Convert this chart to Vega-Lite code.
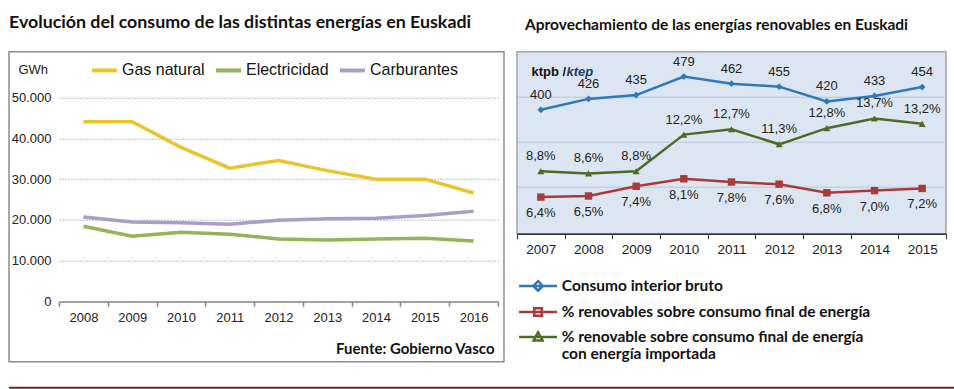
{
  "$schema": "https://vega.github.io/schema/vega-lite/v6.json",
  "padding": {"left": 8, "top": 12.7, "right": 0, "bottom": 0},
  "background": "white",
  "bounds": "flush",
  "spacing": 335,
  "config": {
    "locale": {"number": {"decimal": ",", "thousands": ".", "grouping": [3], "currency": ["", " €"]}},
    "font": "Liberation Sans",
    "legend": {"padding": 0}
  },
  "vconcat": [
    {
      "bounds": "flush",
      "spacing": 13,
      "resolve": {"scale": {"color": "independent", "shape": "independent"}, "legend": {"color": "independent", "shape": "independent"}},
      "hconcat": [
        {
          "width": 495,
          "height": 310,
          "title": {"text": "Evolución del consumo de las distintas energías en Euskadi", "anchor": "start", "frame": "group", "font": "Lato", "fontSize": 17.8, "fontWeight": "bold", "color": "#111111", "offset": 6, "baseline": "alphabetic"},
          "view": {"stroke": "#8c8c8c", "strokeWidth": 1.5, "fill": "white"},
          "data": {"values": [
            {"año": 2008, "serie": "Gas natural", "gwh": 44100},
            {"año": 2009, "serie": "Gas natural", "gwh": 44100},
            {"año": 2010, "serie": "Gas natural", "gwh": 37800},
            {"año": 2011, "serie": "Gas natural", "gwh": 32700},
            {"año": 2012, "serie": "Gas natural", "gwh": 34600},
            {"año": 2013, "serie": "Gas natural", "gwh": 32100},
            {"año": 2014, "serie": "Gas natural", "gwh": 30000},
            {"año": 2015, "serie": "Gas natural", "gwh": 30000},
            {"año": 2016, "serie": "Gas natural", "gwh": 26600},
            {"año": 2008, "serie": "Electricidad", "gwh": 18450},
            {"año": 2009, "serie": "Electricidad", "gwh": 16000},
            {"año": 2010, "serie": "Electricidad", "gwh": 17000},
            {"año": 2011, "serie": "Electricidad", "gwh": 16500},
            {"año": 2012, "serie": "Electricidad", "gwh": 15300},
            {"año": 2013, "serie": "Electricidad", "gwh": 15050},
            {"año": 2014, "serie": "Electricidad", "gwh": 15300},
            {"año": 2015, "serie": "Electricidad", "gwh": 15500},
            {"año": 2016, "serie": "Electricidad", "gwh": 14800},
            {"año": 2008, "serie": "Carburantes", "gwh": 20700},
            {"año": 2009, "serie": "Carburantes", "gwh": 19500},
            {"año": 2010, "serie": "Carburantes", "gwh": 19300},
            {"año": 2011, "serie": "Carburantes", "gwh": 18950},
            {"año": 2012, "serie": "Carburantes", "gwh": 19900},
            {"año": 2013, "serie": "Carburantes", "gwh": 20300},
            {"año": 2014, "serie": "Carburantes", "gwh": 20400},
            {"año": 2015, "serie": "Carburantes", "gwh": 21100},
            {"año": 2016, "serie": "Carburantes", "gwh": 22100}
          ]},
          "mark": {"type": "line", "strokeWidth": 3.5},
          "encoding": {
            "x": {
              "field": "año", "type": "ordinal", "bandPosition": 0.5,
              "scale": {"type": "band", "range": [50, 489], "paddingInner": 0, "paddingOuter": 0},
              "axis": {
                "orient": "bottom", "offset": -60.3, "tickBand": "extent", "labelAngle": 0,
                "labelFont": "Liberation Sans", "labelFontSize": 13, "labelColor": "#222222", "labelPadding": 5,
                "domainColor": "#888888", "domainWidth": 1.5, "tickColor": "#888888", "tickWidth": 1.5, "tickSize": 5, "grid": false,
                "title": "Fuente: Gobierno Vasco", "titleFont": "Lato", "titleFontWeight": "bold", "titleFontSize": 15, "titleColor": "#111111",
                "titleX": 485, "titleY": 47, "titleAlign": "right", "titleBaseline": "middle"
              }
            },
            "y": {
              "field": "gwh", "type": "quantitative",
              "scale": {"domain": [0, 50000], "range": [249.7, 46]},
              "axis": {
                "orient": "left", "offset": -46, "values": [0, 10000, 20000, 30000, 40000, 50000], "format": ",d",
                "ticks": false, "domain": false, "labelPadding": 4, "labelFont": "Liberation Sans", "labelFontSize": 13, "labelColor": "#222222",
                "grid": true, "gridColor": "#7a7a7a", "gridDash": [1, 2], "gridWidth": 1,
                "title": "GWh", "titleAngle": 0, "titleX": -37, "titleY": 18, "titleAlign": "left", "titleBaseline": "middle",
                "titleFont": "Liberation Sans", "titleFontSize": 13, "titleFontWeight": "normal", "titleColor": "#222222"
              }
            },
            "color": {
              "field": "serie", "type": "nominal",
              "scale": {"domain": ["Gas natural", "Electricidad", "Carburantes"], "range": ["#e9c42c", "#93b45a", "#aa9dc6"]},
              "legend": {
                "orient": "none", "legendX": 81, "legendY": 4, "direction": "horizontal", "title": null,
                "symbolType": "stroke", "symbolSize": 625, "symbolStrokeWidth": 4,
                "labelFont": "Liberation Sans", "labelFontSize": 16, "labelColor": "#111111", "labelOffset": 3, "columnPadding": 3
              }
            }
          }
        },
        {
          "width": 429,
          "height": 182,
          "title": {"text": "Aprovechamiento de las energías renovables en Euskadi", "anchor": "start", "frame": "group", "dx": 8, "font": "Lato", "fontSize": 15.5, "fontWeight": "bold", "color": "#111111", "offset": 6.5, "baseline": "alphabetic"},
          "view": {"stroke": "#a3a3a3", "strokeWidth": 1.5, "fill": "#dce6f2"},
          "data": {"values": [
            {"año": 2007, "serie": "Consumo interior bruto", "valor": 400},
            {"año": 2008, "serie": "Consumo interior bruto", "valor": 426},
            {"año": 2009, "serie": "Consumo interior bruto", "valor": 435},
            {"año": 2010, "serie": "Consumo interior bruto", "valor": 479},
            {"año": 2011, "serie": "Consumo interior bruto", "valor": 462},
            {"año": 2012, "serie": "Consumo interior bruto", "valor": 455},
            {"año": 2013, "serie": "Consumo interior bruto", "valor": 420},
            {"año": 2014, "serie": "Consumo interior bruto", "valor": 433},
            {"año": 2015, "serie": "Consumo interior bruto", "valor": 454},
            {"año": 2007, "serie": "% renovables sobre consumo final de energía", "valor": 0.064},
            {"año": 2008, "serie": "% renovables sobre consumo final de energía", "valor": 0.065},
            {"año": 2009, "serie": "% renovables sobre consumo final de energía", "valor": 0.074},
            {"año": 2010, "serie": "% renovables sobre consumo final de energía", "valor": 0.081},
            {"año": 2011, "serie": "% renovables sobre consumo final de energía", "valor": 0.078},
            {"año": 2012, "serie": "% renovables sobre consumo final de energía", "valor": 0.076},
            {"año": 2013, "serie": "% renovables sobre consumo final de energía", "valor": 0.068},
            {"año": 2014, "serie": "% renovables sobre consumo final de energía", "valor": 0.070},
            {"año": 2015, "serie": "% renovables sobre consumo final de energía", "valor": 0.072},
            {"año": 2007, "serie": "% renovable sobre consumo final de energía con energía importada", "valor": 0.088},
            {"año": 2008, "serie": "% renovable sobre consumo final de energía con energía importada", "valor": 0.086},
            {"año": 2009, "serie": "% renovable sobre consumo final de energía con energía importada", "valor": 0.088},
            {"año": 2010, "serie": "% renovable sobre consumo final de energía con energía importada", "valor": 0.122},
            {"año": 2011, "serie": "% renovable sobre consumo final de energía con energía importada", "valor": 0.127},
            {"año": 2012, "serie": "% renovable sobre consumo final de energía con energía importada", "valor": 0.113},
            {"año": 2013, "serie": "% renovable sobre consumo final de energía con energía importada", "valor": 0.128},
            {"año": 2014, "serie": "% renovable sobre consumo final de energía con energía importada", "valor": 0.137},
            {"año": 2015, "serie": "% renovable sobre consumo final de energía con energía importada", "valor": 0.132}
          ]},
          "encoding": {
            "x": {
              "field": "año", "type": "ordinal", "bandPosition": 0.5,
              "scale": {"type": "band", "paddingInner": 0, "paddingOuter": 0},
              "axis": {
                "title": null, "labelAngle": 0, "tickBand": "extent", "labelFont": "Liberation Sans", "labelFontSize": 13.5, "labelColor": "#1a1a1a",
                "labelPadding": 4, "domainColor": "#333333", "domainWidth": 1.5, "tickColor": "#333333", "tickSize": 5, "grid": false
              }
            },
            "color": {
              "field": "serie", "type": "nominal",
              "scale": {
                "domain": ["Consumo interior bruto", "% renovables sobre consumo final de energía", "% renovable sobre consumo final de energía con energía importada"],
                "range": ["#2f78b8", "#a83a3a", "#4d6b27"]
              },
              "legend": {
                "orient": "none", "legendX": 13.3, "legendY": 226.5, "direction": "vertical", "title": null,
                "symbolSize": 90, "symbolStrokeWidth": 2.5, "symbolOpacity": 1, "labelOffset": 16, "rowPadding": 6,
                "labelFont": "Lato", "labelFontWeight": "bold", "labelFontSize": 15.5, "labelColor": "#111111", "labelLimit": 600,
                "labelExpr": "indexof(datum.label, 'importada') > 0 ? ['% renovable sobre consumo final de energía', 'con energía importada'] : datum.label"
              }
            }
          },
          "layer": [
            {
              "transform": [{"filter": "datum.serie === 'Consumo interior bruto'"}],
              "encoding": {
                "y": {
                  "field": "valor", "type": "quantitative", "scale": {"domain": [106, 538]},
                  "axis": {
                    "orient": "left", "labels": false, "ticks": false, "domain": false, "grid": false,
                    "title": "ktpb /", "titleAngle": 0, "titleX": 14, "titleY": 20, "titleAlign": "left", "titleBaseline": "middle",
                    "titleFont": "Liberation Sans", "titleFontSize": 13, "titleFontWeight": "bold", "titleColor": "#111111"
                  }
                }
              },
              "layer": [
                {"mark": {"type": "line", "strokeWidth": 2.5}},
                {"mark": {"type": "point", "shape": "diamond", "filled": true, "size": 45, "opacity": 1}},
                {"mark": {"type": "text", "dy": -15, "fontSize": 13, "font": "Liberation Sans"},
                 "encoding": {"text": {"field": "valor", "type": "quantitative", "format": "d"}, "color": {"value": "#222222"}}}
              ]
            },
            {
              "transform": [{"filter": "datum.serie !== 'Consumo interior bruto'"}],
              "encoding": {
                "y": {
                  "field": "valor", "type": "quantitative", "scale": {"domain": [0.030, 0.199]},
                  "axis": {
                    "orient": "right", "labels": false, "ticks": false, "domain": false,
                    "grid": true, "values": [0.0732, 0.1154, 0.1572], "gridColor": "#b9c5d6", "gridWidth": 1,
                    "title": "ktep", "titleAngle": 0, "titleX": -380, "titleY": 20, "titleAlign": "left", "titleBaseline": "middle",
                    "titleFont": "Liberation Sans", "titleFontSize": 13, "titleFontWeight": "bold", "titleFontStyle": "italic", "titleColor": "#243b63"
                  }
                }
              },
              "layer": [
                {"mark": {"type": "line", "strokeWidth": 2.5}},
                {"transform": [{"filter": "indexof(datum.serie, 'importada') < 0"}],
                 "mark": {"type": "point", "shape": "square", "filled": true, "size": 55, "opacity": 1}},
                {"transform": [{"filter": "indexof(datum.serie, 'importada') > 0"}],
                 "mark": {"type": "point", "shape": "triangle-up", "filled": true, "size": 50, "opacity": 1}},
                {"mark": {"type": "point", "filled": true, "opacity": 0},
                 "encoding": {"shape": {"field": "serie", "type": "nominal",
                   "scale": {
                     "domain": ["Consumo interior bruto", "% renovables sobre consumo final de energía", "% renovable sobre consumo final de energía con energía importada"],
                     "range": ["M-4,0H4M0,-1L1,0L0,1L-1,0Z", "M-4,0H4M-0.8,-0.8H0.8V0.8H-0.8Z", "M-4,0H4M0,-0.95L0.95,0.75L-0.95,0.75Z"]
                   }}}},
                {"transform": [{"filter": "indexof(datum.serie, 'importada') > 0"}],
                 "mark": {"type": "text", "dy": -15, "fontSize": 13, "font": "Liberation Sans"},
                 "encoding": {"text": {"field": "valor", "type": "quantitative", "format": ".1%"}, "color": {"value": "#222222"}}},
                {"transform": [{"filter": "indexof(datum.serie, 'importada') < 0"}],
                 "mark": {"type": "text", "dy": 16, "fontSize": 13, "font": "Liberation Sans"},
                 "encoding": {"text": {"field": "valor", "type": "quantitative", "format": ".1%"}, "color": {"value": "#222222"}}}
              ]
            }
          ],
          "resolve": {"scale": {"y": "independent"}, "axis": {"y": "independent"}}
        }
      ]
    },
    {
      "width": 946,
      "height": 2,
      "view": {"fill": "#6d1f2e", "stroke": null},
      "data": {"values": [{}]},
      "mark": {"type": "rule", "opacity": 0},
      "encoding": {}
    }
  ]
}
